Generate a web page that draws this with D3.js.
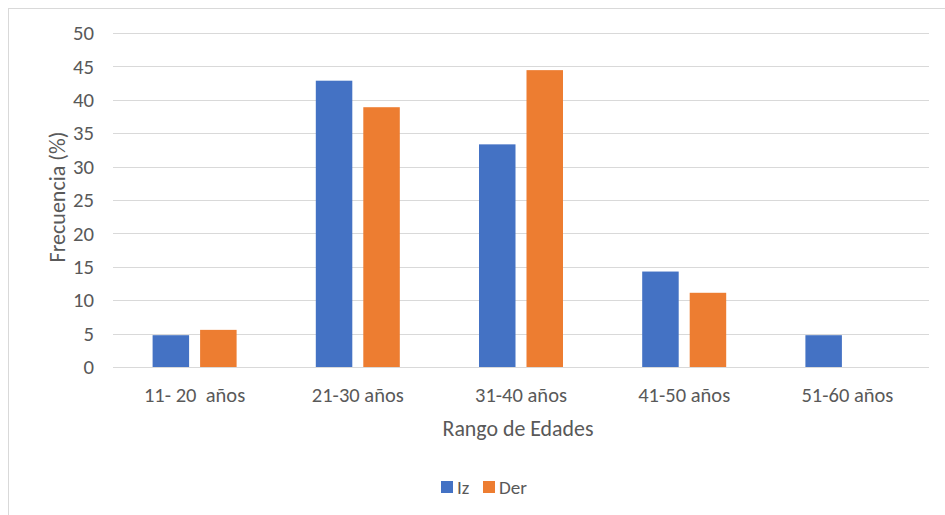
<!DOCTYPE html>
<html>
<head>
<meta charset="utf-8">
<script src="https://cdn.jsdelivr.net/npm/d3@7"></script>
<style>
  html, body { margin: 0; padding: 0; background: #fff; }
  svg { display: block; font-family: Carlito, Calibri, Lato, "Open Sans", sans-serif; }
</style>
</head>
<body>
<svg id="chart" width="945" height="515"></svg>
<script>
// Age ranges and frequency (%) for each side
const categories = ["11- 20  años", "21-30 años", "31-40 años", "41-50 años", "51-60 años"];
const seriesNames = ["Iz", "Der"];
const izValues = [4.76, 42.86, 33.33, 14.29, 4.76];
const derValues = [5.56, 38.89, 44.44, 11.11, 0];
const yTicks = [0, 5, 10, 15, 20, 25, 30, 35, 40, 45, 50];
const colors = ["#4472C4", "#ED7D31"];

const svg = d3.select("#chart");
const textColor = "#595959";
const gridColor = "#D9D9D9";

// pick a font size so a sample string spans the wanted width
function fitSize(sample, width, base) {
  const t = svg.append("text").attr("font-size", base).text(sample);
  const w = t.node().getComputedTextLength();
  t.remove();
  return w > 0 ? base * width / w : base;
}
const tickSize = fitSize("21-30 años", 92, 17);
const numSize = fitSize("50", 21, 17);
const xTitleSize = fitSize("Rango de Edades", 151, 19);
const yTitleSize = fitSize("Frecuencia (%)", 131, 19);
const legendSize = fitSize("Der", 28, 17);

// chart frame (left and top edges visible)
svg.append("rect")
  .attr("x", 8.5).attr("y", 8.5)
  .attr("width", 960).attr("height", 530)
  .attr("fill", "none").attr("stroke", gridColor).attr("stroke-width", 1);

const plot = { left: 113, right: 929, top: 33, bottom: 367 };

const x = d3.scaleBand().domain(categories).range([plot.left, plot.right]).paddingInner(0).paddingOuter(0);
const y = d3.scaleLinear().domain([0, 50]).range([plot.bottom, plot.top]);

// bar layout inside each band
const barW = 36.5, barGap = 11;
const groupW = barW * 2 + barGap;
const xs = d3.scaleOrdinal().domain(seriesNames).range([0, barW + barGap]);

// gridlines
svg.append("g").selectAll("line").data(yTicks).join("line")
  .attr("x1", plot.left).attr("x2", plot.right)
  .attr("y1", d => Math.round(y(d)) + 0.5).attr("y2", d => Math.round(y(d)) + 0.5)
  .attr("stroke", gridColor).attr("stroke-width", 1);

// y tick labels
svg.append("g").selectAll("text").data(yTicks).join("text")
  .attr("x", 94).attr("y", d => y(d))
  .attr("dy", "0.35em")
  .attr("text-anchor", "end")
  .attr("fill", textColor).attr("font-size", numSize)
  .text(d => d);

// bars
const rows = categories.map((c, i) => ({ cat: c, values: [izValues[i], derValues[i]] }));
const groups = svg.append("g").selectAll("g").data(rows).join("g")
  .attr("transform", d => `translate(${x(d.cat) + (x.bandwidth() - groupW) / 2},0)`);
groups.selectAll("rect")
  .data(d => d.values.map((v, j) => ({ name: seriesNames[j], v, color: colors[j] })))
  .join("rect")
  .filter(d => d.v > 0)
  .attr("x", d => xs(d.name))
  .attr("width", barW)
  .attr("y", d => y(d.v))
  .attr("height", d => y(0) - y(d.v))
  .attr("fill", d => d.color);

// baseline on top of bars
svg.append("line")
  .attr("x1", plot.left).attr("x2", plot.right)
  .attr("y1", Math.round(y(0)) + 0.5).attr("y2", Math.round(y(0)) + 0.5)
  .attr("stroke", gridColor).attr("stroke-width", 1);

// x category labels
svg.append("g").selectAll("text").data(categories).join("text")
  .attr("x", d => x(d) + x.bandwidth() / 2)
  .attr("y", 395)
  .attr("dy", "0.35em")
  .attr("text-anchor", "middle")
  .attr("fill", textColor).attr("font-size", tickSize)
  .style("white-space", "pre")
  .text(d => d);

// axis titles
svg.append("text")
  .attr("x", 518).attr("y", 428)
  .attr("dy", "0.35em")
  .attr("text-anchor", "middle")
  .attr("fill", textColor).attr("font-size", xTitleSize)
  .text("Rango de Edades");

svg.append("text")
  .attr("transform", `translate(57,197) rotate(-90)`)
  .attr("dy", "0.35em")
  .attr("text-anchor", "middle")
  .attr("fill", textColor).attr("font-size", yTitleSize)
  .text("Frecuencia (%)");

// legend
const legendItems = [
  { name: seriesNames[0], color: colors[0], x: 441 },
  { name: seriesNames[1], color: colors[1], x: 483 }
];
const lg = svg.append("g").selectAll("g").data(legendItems).join("g")
  .attr("transform", d => `translate(${d.x},481)`);
lg.append("rect").attr("width", 12).attr("height", 12).attr("fill", d => d.color);
lg.append("text")
  .attr("x", 16).attr("y", 6).attr("dy", "0.35em")
  .attr("fill", textColor).attr("font-size", legendSize)
  .text(d => d.name);
</script>
</body>
</html>
